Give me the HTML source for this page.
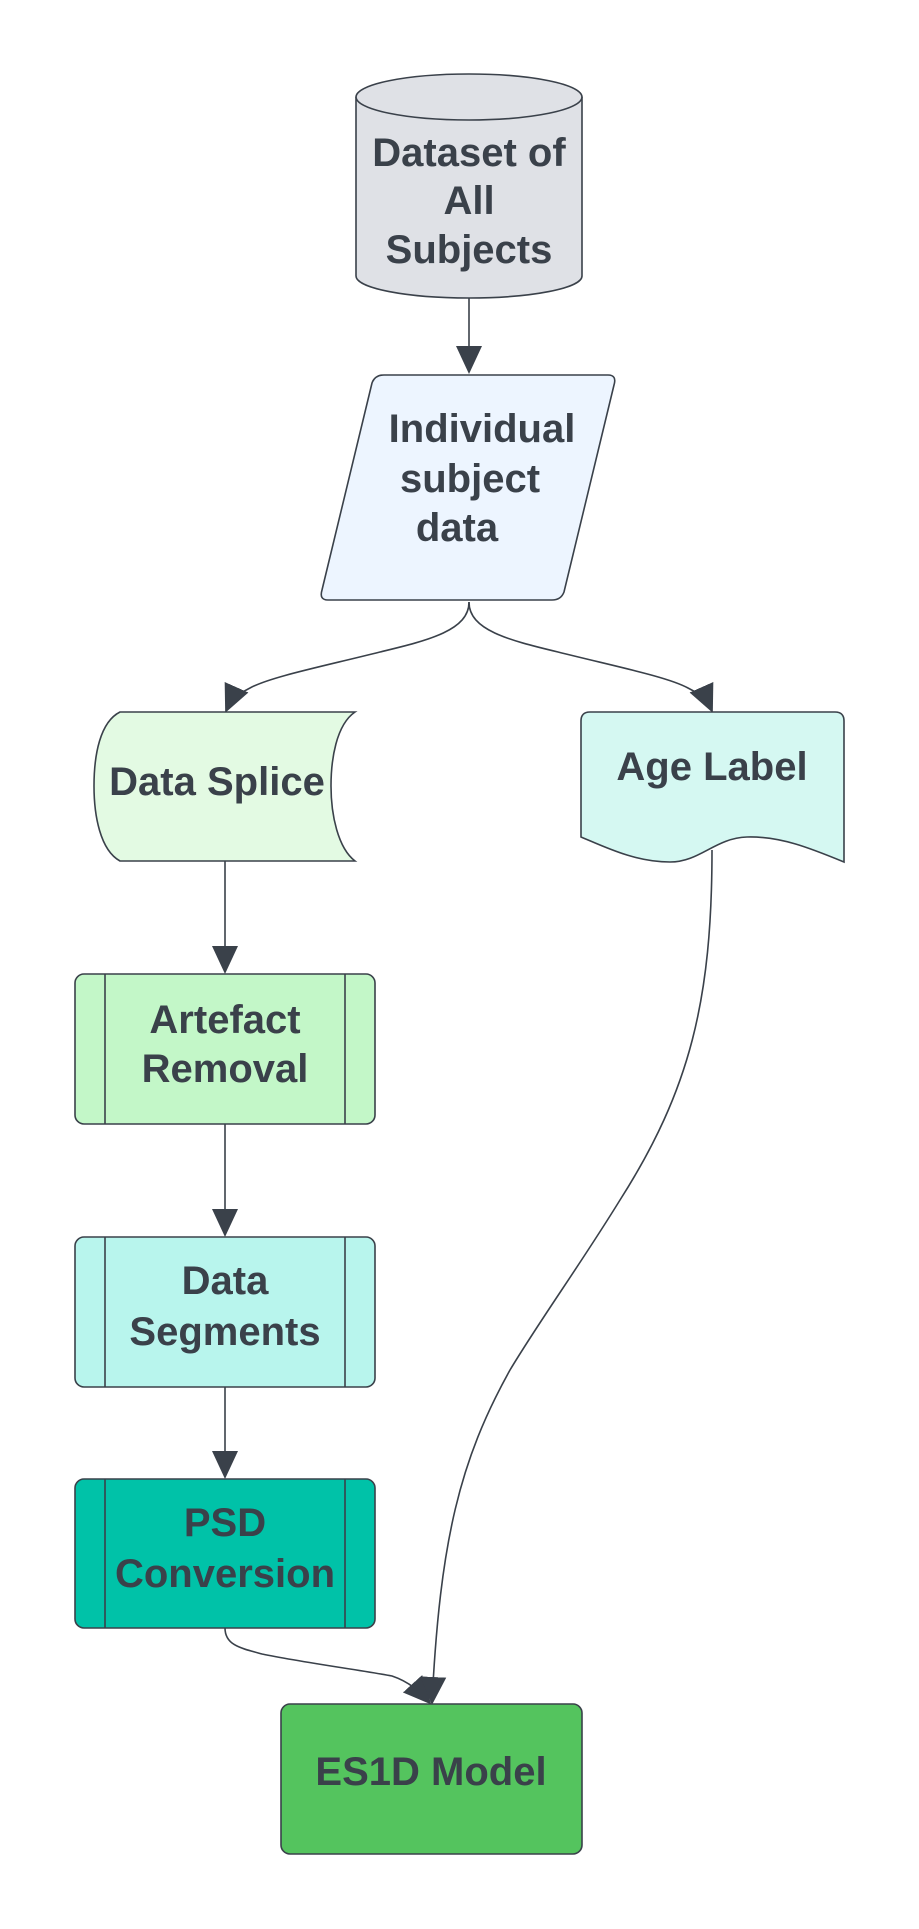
<!DOCTYPE html>
<html><head><meta charset="utf-8"><style>
html,body{margin:0;padding:0;background:#fff;}
svg{display:block;}
text{font-family:"Liberation Sans",Arial,sans-serif;font-weight:bold;font-size:40px;fill:#3a414a;text-anchor:middle;dominant-baseline:central;}
</style></head><body>
<svg width="919" height="1929" viewBox="0 0 919 1929" xmlns="http://www.w3.org/2000/svg">
<defs>
<marker id="ahb" markerWidth="28" markerHeight="26" refX="26" refY="13" orient="auto" markerUnits="userSpaceOnUse" viewBox="0 0 28 26">
<path d="M0,0 L28,13 L0,26 Z" fill="#3a414a"/>
</marker>
</defs>
<g stroke="#3a414a" stroke-width="1.6" fill="none">
<path d="M469,298 L469,372" marker-end="url(#ahb)"/>
<path d="M469,602 C469,630 430,640 380,652 C320,667 270,677 250,688 C236,695 230,702 226,711" marker-end="url(#ahb)"/>
<path d="M469,602 C469,630 508,640 558,652 C618,667 668,677 688,688 C702,695 708,702 712,711" marker-end="url(#ahb)"/>
<path d="M225,861 L225,972" marker-end="url(#ahb)"/>
<path d="M225,1124 L225,1235" marker-end="url(#ahb)"/>
<path d="M225,1387 L225,1477" marker-end="url(#ahb)"/>
<path d="M225,1628 C225,1645 240,1648 262,1654 C300,1662 360,1670 392,1676 C410,1682 420,1692 430,1703" marker-end="url(#ahb)"/>
<path d="M712,850 C712,1000 690,1090 620,1200 C580,1265 540,1320 510,1370 C460,1460 440,1540 432,1703" marker-end="url(#ahb)"/>
</g>
<path d="M356,97 L356,276 A113,22 0 0 0 582,276 L582,97" fill="#dfe1e6" stroke="#3a414a" stroke-width="1.6"/>
<ellipse cx="469" cy="97" rx="113" ry="23" fill="#dfe1e6" stroke="#3a414a" stroke-width="1.6"/>
<text x="469" y="153">Dataset of</text>
<text x="469" y="201">All</text>
<text x="469" y="250">Subjects</text>
<path d="M384,375 L608,375 Q617,375 614,385 L564,592 Q561,600 552,600 L328,600 Q319,600 322,590 L372,383 Q375,375 384,375 Z" fill="#edf5ff" stroke="#3a414a" stroke-width="1.6"/>
<text x="482" y="429">Individual</text>
<text x="470" y="479">subject</text>
<text x="457" y="528">data</text>
<path d="M120,712 L355,712 C336,725 331,760 331,786 C331,815 338,848 355,861 L120,861 C100,850 94,815 94,786 C94,755 100,722 120,712 Z" fill="#e3fae3" stroke="#3a414a" stroke-width="1.6"/>
<text x="217" y="782">Data Splice</text>
<path d="M590,712 L835,712 Q844,712 844,721 L844,862 C810,848 780,836 747,837 C715,838 700,862 670,862 C635,862 605,847 581,837 L581,721 Q581,712 590,712 Z" fill="#d5f8f2" stroke="#3a414a" stroke-width="1.6"/>
<text x="712" y="767">Age Label</text>
<g stroke="#3a414a" stroke-width="1.6">
<rect x="75" y="974" width="300" height="150" rx="9" fill="#c3f7c8"/>
<line x1="105" y1="974" x2="105" y2="1124"/><line x1="345" y1="974" x2="345" y2="1124"/>
<rect x="75" y="1237" width="300" height="150" rx="9" fill="#b8f5ed"/>
<line x1="105" y1="1237" x2="105" y2="1387"/><line x1="345" y1="1237" x2="345" y2="1387"/>
<rect x="75" y="1479" width="300" height="149" rx="9" fill="#00c2a8"/>
<line x1="105" y1="1479" x2="105" y2="1628"/><line x1="345" y1="1479" x2="345" y2="1628"/>
<rect x="281" y="1704" width="301" height="150" rx="9" fill="#54c45e"/>
</g>
<text x="225" y="1020">Artefact</text>
<text x="225" y="1069">Removal</text>
<text x="225" y="1281">Data</text>
<text x="225" y="1332">Segments</text>
<text x="225" y="1523">PSD</text>
<text x="225" y="1574">Conversion</text>
<text x="431" y="1772">ES1D Model</text>
</svg>
</body></html>
